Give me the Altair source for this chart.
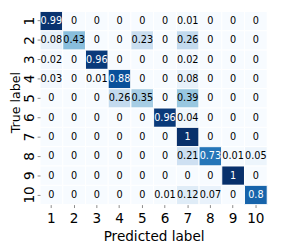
import altair as alt
import pandas as pd

labels = ["1", "2", "3", "4", "5", "6", "7", "8", "9", "10"]
matrix = [
    [0.99, 0, 0, 0, 0, 0, 0.01, 0, 0, 0],
    [0.08, 0.43, 0, 0, 0.23, 0, 0.26, 0, 0, 0],
    [0.02, 0, 0.96, 0, 0, 0, 0.02, 0, 0, 0],
    [0.03, 0, 0.01, 0.88, 0, 0, 0.08, 0, 0, 0],
    [0, 0, 0, 0.26, 0.35, 0, 0.39, 0, 0, 0],
    [0, 0, 0, 0, 0, 0.96, 0.04, 0, 0, 0],
    [0, 0, 0, 0, 0, 0, 1, 0, 0, 0],
    [0, 0, 0, 0, 0, 0, 0.21, 0.73, 0.01, 0.05],
    [0, 0, 0, 0, 0, 0, 0, 0, 1, 0],
    [0, 0, 0, 0, 0, 0.01, 0.12, 0.07, 0, 0.8],
]

rows = []
for i, t in enumerate(labels):
    for j, p in enumerate(labels):
        v = matrix[i][j]
        rows.append({"true": t, "pred": p, "value": v, "txt": f"{v:g}"})
df = pd.DataFrame(rows)

blues = ["#f7fbff", "#deebf7", "#c6dbef", "#9ecae1", "#6baed6",
         "#4292c6", "#2171b5", "#08519c", "#08306b"]
dom = [i / 8 for i in range(9)]

W, H = 234, 199
font = "DejaVu Sans"
x = alt.X("pred:O", sort=labels, title="Predicted label",
          axis=alt.Axis(labelAngle=0, labelFontSize=14, titleFontSize=14,
                        tickSize=3, domain=False, labelColor="black",
                        titleColor="black", titleFontWeight="normal",
                        labelFont=font, titleFont=font, titlePadding=5,
                        labelPadding=4))
y = alt.Y("true:O", sort=labels, title="True label",
          axis=alt.Axis(labelAngle=270, labelFontSize=14, titleFontSize=13,
                        tickSize=3, domain=False, labelColor="black",
                        titleColor="black", titleFontWeight="normal",
                        labelFont=font, titleFont=font, labelAlign="center",
                        labelBaseline="alphabetic", labelPadding=4,
                        titleX=-25, titleY=H / 2 - 6, titleBaseline="middle",
                        titleAngle=270))

base = alt.Chart(df)
rect = base.mark_rect(stroke="white", strokeWidth=1).encode(
    x=x, y=y,
    color=alt.Color("value:Q", scale=alt.Scale(domain=dom, range=blues),
                    legend=None),
)
text = base.mark_text(fontSize=10, font=font).encode(
    x=x, y=y, text="txt:N",
    color=alt.condition(alt.datum.value > 0.5, alt.value("white"), alt.value("black")),
)

chart = (rect + text).properties(
    width=W, height=H,
    autosize=alt.AutoSizeParams(type="none"),
    padding={"left": 33, "top": 0, "right": 7, "bottom": 37},
).configure_view(stroke=None)

chart.save("out.html", embed_options={"renderer": "svg", "actions": False})
